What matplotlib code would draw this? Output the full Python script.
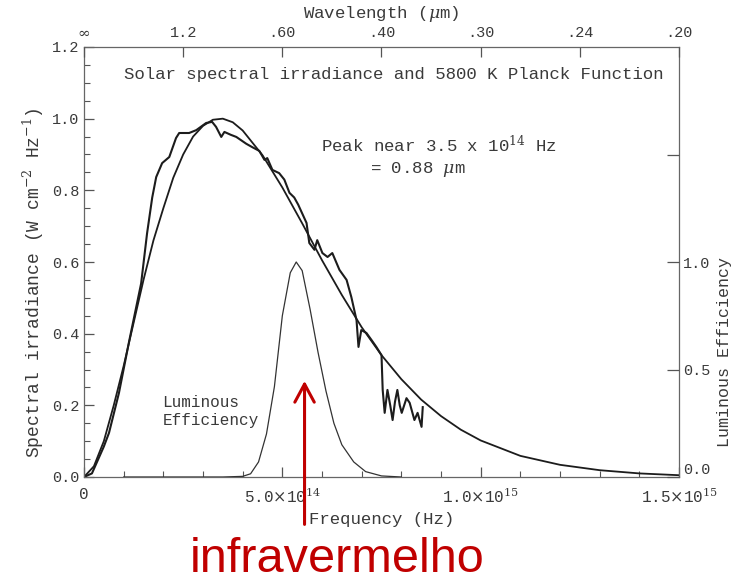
import numpy as np
import matplotlib
matplotlib.use("Agg")
import matplotlib.pyplot as plt
from matplotlib.ticker import FixedLocator, MultipleLocator
import matplotlib.transforms as mtransforms

# frequencies in units of 1e14 Hz
planck_freq = [0, 0.25, 0.5, 0.75, 1.0, 1.25, 1.5, 1.75, 2.0, 2.25, 2.5, 2.75, 3.0,
               3.25, 3.5, 3.75, 4.0, 4.5, 5.0, 5.5, 6.0, 6.5, 7.0, 7.5, 8.0, 8.5,
               9.0, 9.5, 10, 11, 12, 13, 14, 15]
planck_val = [0, 0.03, 0.10, 0.20, 0.31, 0.43, 0.55, 0.66, 0.75, 0.835, 0.90, 0.95, 0.98,
              0.997, 1.0, 0.99, 0.967, 0.898, 0.808, 0.708, 0.605, 0.508, 0.418, 0.34, 0.273,
              0.216, 0.17, 0.132, 0.102, 0.059, 0.034, 0.019, 0.010, 0.005]

solar_freq = [0, 0.2, 0.5, 0.63, 0.88, 1.14, 1.44, 1.59, 1.72, 1.82, 1.97, 2.15, 2.32, 2.40,
              2.65, 2.83, 3.08, 3.23, 3.33, 3.46, 3.54, 3.70, 3.84, 4.09, 4.25, 4.42, 4.55,
              4.62, 4.75, 4.92, 5.05, 5.18, 5.30, 5.40, 5.61, 5.68, 5.81, 5.88, 6.01, 6.14,
              6.26, 6.44, 6.62, 6.74, 6.87, 6.92, 6.99, 7.12, 7.25, 7.37, 7.50, 7.53, 7.58,
              7.65, 7.72, 7.78, 7.84, 7.90, 7.96, 8.01, 8.13, 8.21, 8.33, 8.41, 8.51, 8.54]
solar_val = [0, 0.01, 0.085, 0.123, 0.234, 0.38, 0.54, 0.68, 0.78, 0.837, 0.876, 0.893, 0.946,
             0.960, 0.960, 0.968, 0.988, 0.991, 0.977, 0.949, 0.963, 0.955, 0.949, 0.93, 0.92,
             0.91, 0.885, 0.89, 0.857, 0.848, 0.83, 0.793, 0.78, 0.76, 0.709, 0.653, 0.634,
             0.661, 0.625, 0.614, 0.625, 0.578, 0.550, 0.502, 0.438, 0.363, 0.410, 0.402,
             0.382, 0.363, 0.340, 0.243, 0.179, 0.243, 0.20, 0.159, 0.21, 0.243, 0.20, 0.179,
             0.220, 0.207, 0.159, 0.179, 0.140, 0.195]

lum_freq = [1.0, 3.5, 4.0, 4.2, 4.4, 4.6, 4.8, 5.0, 5.2, 5.35, 5.5, 5.7, 5.9, 6.1, 6.3,
            6.5, 6.8, 7.1, 7.5, 8.0]
lum_val = [0, 0, 0.003, 0.015, 0.07, 0.2, 0.42, 0.75, 0.95, 1.0, 0.96, 0.78, 0.58, 0.40,
           0.25, 0.15, 0.07, 0.025, 0.005, 0.0]

bottom_ticks = [0, 5, 10, 15]
bottom_labels = ["0", r"5.0$\times$10$^{14}$", r"1.0$\times$10$^{15}$", r"1.5$\times$10$^{15}$"]
left_ticks = [0.0, 0.2, 0.4, 0.6, 0.8, 1.0, 1.2]
right_ticks = [0.0, 0.5, 1.0, 1.5]
right_labels = ["0.0", "0.5", "1.0", ""]
wl_um = [np.inf, 1.2, 0.60, 0.40, 0.30, 0.24, 0.20]
wl_labels = [r"$\infty$", "1.2", ".60", ".40", ".30", ".24", ".20"]

ink = "#1c1c1c"
txt = "#3a3a3a"
plt.rcParams["font.family"] = ["Liberation Mono", "DejaVu Sans"]
plt.rcParams["mathtext.fontset"] = "dejavuserif"

fig = plt.figure(figsize=(7.35, 5.87), dpi=100)
ax = fig.add_axes([84 / 735, 110 / 587, 595 / 735, 430 / 587])

f_scale = 1e14
ax.plot(np.array(planck_freq) * f_scale, planck_val, color=ink, lw=1.3)
ax.plot(np.array(solar_freq) * f_scale, solar_val, color=ink, lw=1.5)

ax.set_xlim(0, 1.5e15)
ax.set_ylim(0, 1.2)
ax.xaxis.set_major_locator(FixedLocator([t * f_scale for t in bottom_ticks]))
ax.set_xticklabels(bottom_labels)
ax.xaxis.set_minor_locator(MultipleLocator(1e14))
ax.yaxis.set_major_locator(FixedLocator(left_ticks))
ax.set_yticklabels(["%.1f" % v for v in left_ticks])
ax.yaxis.set_minor_locator(MultipleLocator(0.05))
ax.tick_params(which="both", direction="in", colors="#555555", labelcolor=txt, labelsize=11)
ax.tick_params(which="major", length=7, width=0.9)
ax.tick_params(which="minor", length=4, width=0.8)
ax.tick_params(axis="x", which="major", pad=7, labelsize=11.5)
ax.tick_params(axis="y", which="both", right=False)
for s in ax.spines.values():
    s.set_color("#666666")
    s.set_linewidth(0.9)

ax.set_xlabel("Frequency (Hz)", fontsize=12.5, color=txt, labelpad=4)
ax.set_ylabel(r"Spectral irradiance (W cm$^{-2}$ Hz$^{-1}$)", fontsize=13, color=txt)
ax.yaxis.set_label_coords(-0.064, 0.451)

# luminous efficiency on right axis
ax_r = ax.twinx()
ax_r.plot(np.array(lum_freq) * f_scale, lum_val, color="#333333", lw=0.9)
ax_r.set_ylim(0, 2.0)
ax_r.set_yticks(right_ticks)
ax_r.set_yticklabels(right_labels)
ax_r.tick_params(direction="in", length=9, width=0.9, colors="#555555", labelcolor=txt,
                 labelsize=11, pad=3)
lift = mtransforms.ScaledTranslation(0, 6 / 72, fig.dpi_scale_trans)
ax_r.get_yticklabels()[0].set_transform(ax_r.get_yticklabels()[0].get_transform() + lift)
for s in ax_r.spines.values():
    s.set_visible(False)

# wavelength on top axis
ax_t = ax.twiny()
ax_t.set_xlim(0, 1.5e15)
wl_pos = [0.0 if np.isinf(w) else 3e14 / w for w in wl_um]
ax_t.set_xticks(wl_pos)
ax_t.set_xticklabels(wl_labels)
ax_t.tick_params(direction="in", length=7, width=0.9, colors="#555555", labelcolor=txt,
                 labelsize=11, pad=5)
ax_t.set_xlabel(r"Wavelength ($\mu$m)", fontsize=12.5, color=txt, labelpad=6)
for s in ax_t.spines.values():
    s.set_visible(False)

ax.text(0.52, 0.935, "Solar spectral irradiance and 5800 K Planck Function",
        transform=ax.transAxes, ha="center", va="center", fontsize=12.5, color=txt)
ax.text(5.98e14, 0.928, r"Peak near 3.5 x 10$^{14}$ Hz", fontsize=12.5, color=txt,
        ha="left", va="center")
ax.text(8.41e14, 0.858, r"= 0.88 $\mu$m", fontsize=12.5, color=txt, ha="center", va="center")
ax.text(1.98e14, 0.184, "Luminous\nEfficiency", fontsize=11.5, color=txt, ha="left",
        va="center", linespacing=1.25)

fig.text(725 / 735, 1 - 352 / 587, "Luminous Efficiency", rotation=90, ha="center",
         va="center", fontsize=12, color=txt)

# red arrow and label
red = "#c00000"
ax.annotate("", xy=(5.56e14, 0.276), xytext=(5.56e14, -0.14),
            arrowprops=dict(arrowstyle="->,head_length=1.3,head_width=0.7", color=red, lw=2.2),
            annotation_clip=False)
fig.text(337 / 735, 1 - 560 / 587, "infravermelho", ha="center", va="center",
         fontsize=35, color=red, family="Liberation Sans")

fig.savefig("out.png", dpi=100)
